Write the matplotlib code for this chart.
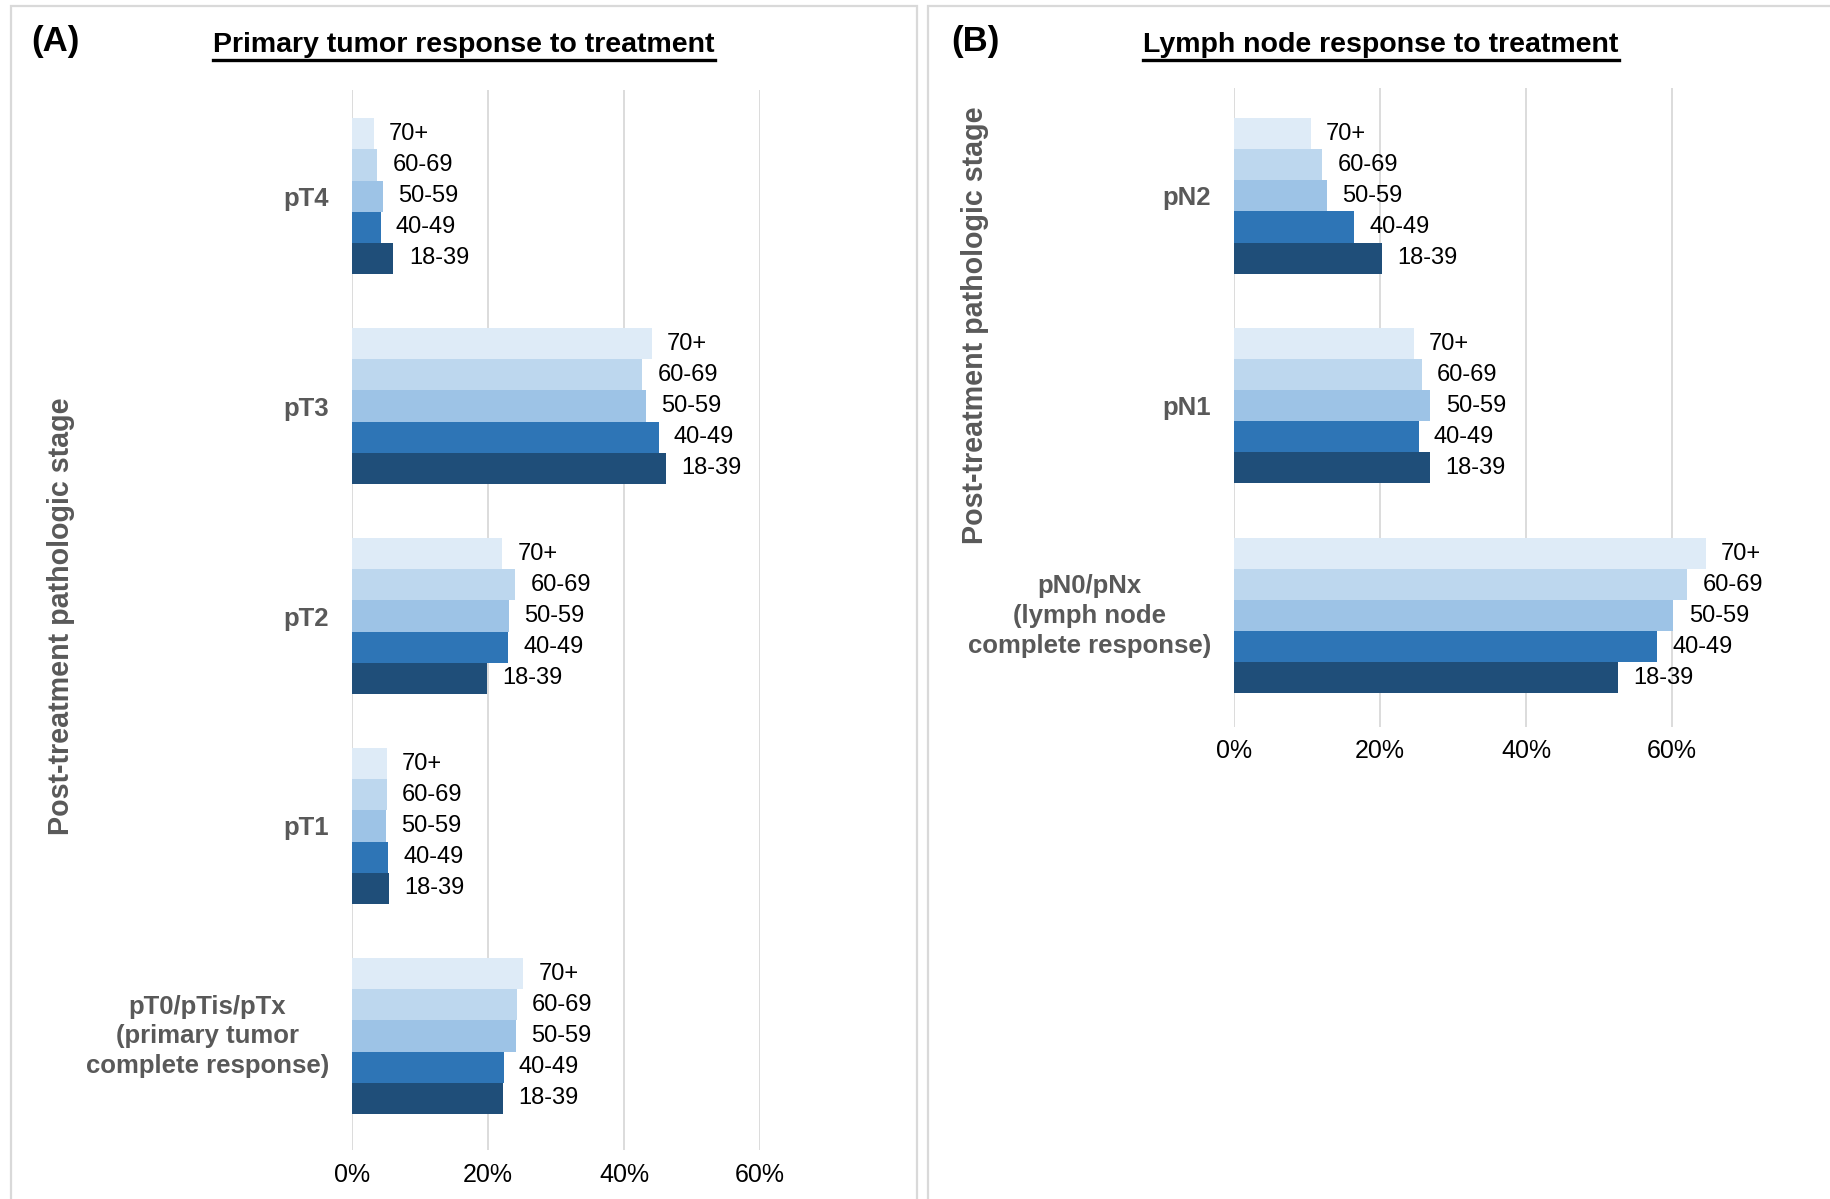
import matplotlib
matplotlib.use("Agg")
import matplotlib.pyplot as plt
from matplotlib.lines import Line2D
from matplotlib.patches import Rectangle
from matplotlib.transforms import ScaledTranslation

# ---- data -------------------------------------------------------------
age_groups = ["70+", "60-69", "50-59", "40-49", "18-39"]
age_colors = ["#DEEBF7", "#BDD7EE", "#9DC3E6", "#2E75B6", "#1F4E79"]

# Primary tumor (bottom-to-top order)
tumor_stages = ["pT0/pTis/pTx\n(primary tumor\ncomplete response)", "pT1", "pT2", "pT3", "pT4"]
tumor_70plus = [25.2, 5.1, 22.1, 44.1, 3.2]
tumor_60_69 = [24.2, 5.1, 24.0, 42.7, 3.7]
tumor_50_59 = [24.1, 5.0, 23.1, 43.2, 4.5]
tumor_40_49 = [22.3, 5.3, 23.0, 45.1, 4.2]
tumor_18_39 = [22.2, 5.5, 19.9, 46.2, 6.1]

# Lymph node (bottom-to-top order)
node_stages = ["pN0/pNx\n(lymph node\ncomplete response)", "pN1", "pN2"]
node_70plus = [64.6, 24.6, 10.5]
node_60_69 = [62.1, 25.7, 12.1]
node_50_59 = [60.2, 26.9, 12.7]
node_40_49 = [58.0, 25.3, 16.5]
node_18_39 = [52.6, 26.9, 20.3]

x_ticks = [0, 20, 40, 60]
x_tick_labels = ["0%", "20%", "40%", "60%"]

# ---- figure -----------------------------------------------------------
W, H = 1831, 1199
fig = plt.figure(figsize=(W / 100, H / 100), dpi=100)
plt.rcParams["font.family"] = ["Liberation Sans", "DejaVu Sans"]

GRID = "#D9D9D9"
GRAY = "#595959"


def px_axes(x0, x1, ytop, ybot):
    return fig.add_axes([x0 / W, 1 - ybot / H, (x1 - x0) / W, (ybot - ytop) / H])


def draw_panel(ax, stages, series, xmax, ylim):
    n = len(series)
    bh = 0.148
    for k, (vals, lab, col) in enumerate(zip(series, age_groups, age_colors)):
        # 70+ on top, 18-39 at bottom of each group
        off = (n - 1) / 2 * bh - k * bh
        ys = [i + off for i in range(len(stages))]
        ax.barh(ys, vals, height=bh, color=col, edgecolor="none", zorder=2)
        for y, v in zip(ys, vals):
            ax.annotate(lab, (v, y), xytext=(11, 0), textcoords="offset points",
                        va="center", ha="left", fontsize=17, color="black",
                        annotation_clip=False)
    ax.set_xlim(0, xmax)
    ax.set_ylim(*ylim)
    ax.set_xticks(x_ticks)
    ax.set_xticklabels(x_tick_labels, fontsize=18)
    ax.set_yticks(range(len(stages)))
    ax.set_yticklabels(stages, fontsize=18.5, fontweight="bold", color=GRAY,
                       multialignment="center", linespacing=1.3)
    ax.tick_params(axis="both", length=0)
    ax.tick_params(axis="x", pad=9)
    ax.tick_params(axis="y", pad=16.5)
    # lift the three-line stage labels so they sit centred on their bar group
    for lbl in ax.get_yticklabels():
        if "\n" in lbl.get_text():
            lbl.set_transform(lbl.get_transform() +
                              ScaledTranslation(0, 5 / 100, fig.dpi_scale_trans))
    for s in ax.spines.values():
        s.set_visible(False)
    for xv in x_ticks:
        ax.axvline(xv, color=GRID, lw=1.3, zorder=1)


axA = px_axes(352, 352 + 136 * 3, 90, 1150)
draw_panel(axA, tumor_stages,
           [tumor_70plus, tumor_60_69, tumor_50_59, tumor_40_49, tumor_18_39],
           60, (-0.543, 4.505))

axB = px_axes(1234, 1234 + 146 * 3.5, 88, 727)
draw_panel(axB, node_stages,
           [node_70plus, node_60_69, node_50_59, node_40_49, node_18_39],
           70, (-0.53, 2.514))

# panel frames
for x0, x1 in [(11, 917), (928, 1900)]:
    fig.patches.append(Rectangle((x0 / W, -0.05), (x1 - x0) / W, 1.05 - 6 / H,
                                 transform=fig.transFigure, fill=False,
                                 edgecolor=GRID, lw=1.6))

# panel letters, titles, axis titles
fig.text(31 / W, 1 - 42 / H, "(A)", fontsize=25, fontweight="bold", va="center", ha="left")
fig.text(951 / W, 1 - 42 / H, "(B)", fontsize=25, fontweight="bold", va="center", ha="left")
titles = [
    fig.text(464 / W, 1 - 45 / H, "Primary tumor response to treatment",
             fontsize=20.5, fontweight="bold", va="center", ha="center"),
    fig.text(1381 / W, 1 - 45 / H, "Lymph node response to treatment",
             fontsize=20.5, fontweight="bold", va="center", ha="center"),
]
fig.text(61 / W, 1 - 616 / H, "Post-treatment pathologic stage", rotation=90,
         fontsize=20.6, fontweight="bold", color=GRAY, va="center", ha="center")
fig.text(975 / W, 1 - 325 / H, "Post-treatment pathologic stage", rotation=90,
         fontsize=20.6, fontweight="bold", color=GRAY, va="center", ha="center")

# underline the titles
fig.canvas.draw()
r = fig.canvas.get_renderer()
for t in titles:
    bb = t.get_window_extent(r)
    y = (bb.y0 - 2) / H
    fig.add_artist(Line2D([bb.x0 / W, bb.x1 / W], [y, y], transform=fig.transFigure,
                          color="black", lw=2.4))

fig.savefig("out.png", dpi=100, facecolor="white")
